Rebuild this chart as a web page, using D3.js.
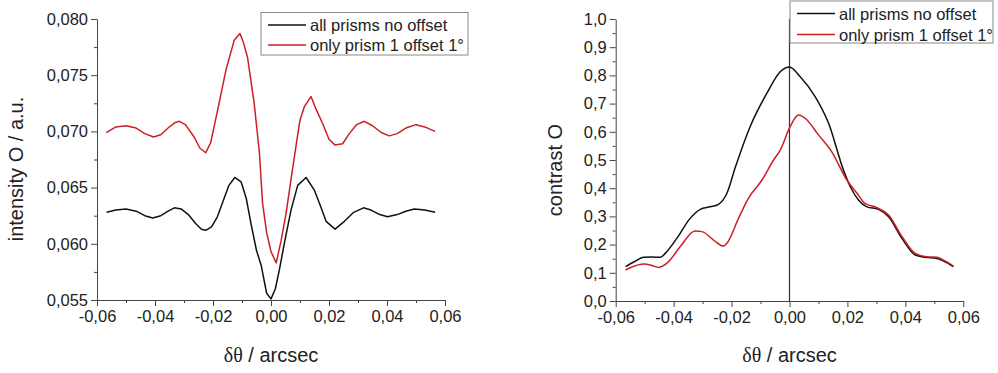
<!DOCTYPE html>
<html>
<head>
<meta charset="utf-8">
<script src="https://d3js.org/d3.v7.min.js"></script>
<title>intensity and contrast</title>
</head>
<style>
body { margin: 0; background: #fff; }
svg { display: block; }
text { font-family: "Liberation Sans", Arial, sans-serif; fill: #222; }
.axis path, .axis line { stroke: #444; stroke-width: 1; }
.axis text { font-size: 16.5px; fill: #222; }
.legendText { font-size: 16.5px; }
.title { font-size: 20px; }
</style>
<body>
<svg width="998" height="373"></svg>
</body>
<script>

// series names
let seriesNames = ["all prisms no offset", "only prism 1 offset 1°"];

// left chart: intensity, x in 1e-3 arcsec
let intBlackX = [-56.7,-53.5,-50.0,-46.5,-43.5,-40.8,-38.0,-35.5,-33.3,-31.0,-28.5,-26.0,-24.0,-22.5,-20.5,-18.5,-16.5,-14.5,-12.5,-10.3,-8.5,-6.9,-5.0,-3.4,-1.5,0,
  1.5,2.9,4.8,6.9,9.2,12.1,14.9,17.0,19.0,22.1,25.3,28.5,31.9,34.5,37.5,40.2,43.5,46.5,49.4,53.0,56.6];
let intBlackY = [0.0628,0.0630,0.0631,0.0629,0.0625,0.0623,0.0625,0.0629,0.0632,0.0631,0.0626,0.0618,0.0613,0.0612,0.0615,0.0624,0.0638,0.0652,0.0659,0.0655,0.0640,0.0618,0.0594,0.0581,0.0556,0.0551,
  0.0560,0.0577,0.0603,0.0630,0.0652,0.0659,0.0648,0.0634,0.0620,0.0613,0.0620,0.0628,0.0632,0.0630,0.0626,0.0624,0.0626,0.0629,0.0631,0.0630,0.0628];

let intRedX = [-56.8,-53.5,-50.0,-46.5,-43.5,-40.5,-38.0,-35.5,-33.0,-31.6,-29.5,-26.5,-24.5,-22.5,-20.8,-18.4,-15.5,-12.7,-10.7,-9.5,-8.1,-5.8,-4.0,-2.9,-1.5,0,
  1.8,3.5,5.2,7.4,8.8,10.0,11.5,13.8,15.5,17.8,20.0,22.0,24.7,27.0,29.5,32.2,35.0,38.0,40.8,43.5,46.5,50.0,53.0,56.6];
let intRedY = [0.0699,0.0704,0.0705,0.0703,0.0698,0.0695,0.0697,0.0703,0.0708,0.0709,0.0706,0.0695,0.0685,0.0681,0.0690,0.0719,0.0755,0.0781,0.0787,0.0779,0.0766,0.0725,0.0681,0.0636,0.0610,0.0593,
  0.0583,0.0603,0.0627,0.0666,0.0690,0.0710,0.0722,0.0731,0.0720,0.0707,0.0693,0.0688,0.0689,0.0698,0.0706,0.0709,0.0705,0.0699,0.0696,0.0698,0.0703,0.0706,0.0704,0.0700];

// right chart: contrast
let conBlackX = [-56.6,-53.5,-50.4,-47.5,-44.6,-42.9,-38.9,-34.3,-30.8,-27.4,-24.5,-21.6,-18.7,-13.6,-7.8,-3.2,0,
  3.7,8.9,13.5,18.6,21.0,23.8,26.7,30.7,34.2,38.8,43.4,46.8,50.9,53.7,56.6];
let conBlackY = [0.122,0.140,0.155,0.156,0.155,0.169,0.222,0.293,0.325,0.334,0.343,0.382,0.474,0.618,0.737,0.813,0.830,
  0.795,0.724,0.630,0.465,0.405,0.358,0.334,0.325,0.299,0.222,0.163,0.155,0.151,0.139,0.122];

let conRedX = [-56.6,-53.5,-50.4,-47.5,-45.2,-42.3,-37.7,-32.6,-30.2,-26.2,-22.8,-21.6,-17.6,-14.2,-9.5,-5.5,-3.2,0.2,
  3.1,5.4,10.0,14.6,19.8,23.3,26.1,30.2,34.2,38.8,43.4,47.4,50.9,53.7,56.6];
let conRedY = [0.110,0.124,0.131,0.126,0.119,0.134,0.193,0.248,0.246,0.216,0.195,0.205,0.293,0.364,0.429,0.500,0.535,0.618,
  0.660,0.648,0.589,0.529,0.429,0.382,0.346,0.331,0.305,0.229,0.169,0.157,0.155,0.142,0.124];

// ticks
let xTicks = [-0.06,-0.04,-0.02,0,0.02,0.04,0.06];
let xMinor = [-0.05,-0.03,-0.01,0.01,0.03,0.05];
let intTicks = [0.055,0.060,0.065,0.070,0.075,0.080];
let intMinor = [0.0575,0.0625,0.0675,0.0725,0.0775];
let conTicks = [0,0.1,0.2,0.3,0.4,0.5,0.6,0.7,0.8,0.9,1.0];
let conMinor = [0.05,0.15,0.25,0.35,0.45,0.55,0.65,0.75,0.85,0.95];

let colors = ["#111", "#cc1f24"];

function toPoints(xs, ys) {
  return xs.map(function(x, i){ return [x/1000, ys[i]]; });
}

function comma(digits) {
  return function(v){ return v.toFixed(digits).replace(".", ","); };
}

let svg = d3.select("svg");

function drawPanel(cfg) {
  let x = d3.scaleLinear().domain([-0.06, 0.06]).range(cfg.xRange);
  let y = d3.scaleLinear().domain(cfg.yDomain).range(cfg.yRange);
  let g = svg.append("g");

  // minor ticks first
  g.append("g").attr("class","axis")
    .attr("transform","translate(0," + cfg.yRange[0] + ")")
    .call(d3.axisBottom(x).tickValues(xMinor).tickSize(3).tickFormat(""))
    .select(".domain").remove();
  g.append("g").attr("class","axis")
    .attr("transform","translate(" + cfg.xRange[0] + ",0)")
    .call(d3.axisLeft(y).tickValues(cfg.yMinor).tickSize(3).tickFormat(""))
    .select(".domain").remove();

  g.append("g").attr("class","axis")
    .attr("transform","translate(0," + cfg.yRange[0] + ")")
    .call(d3.axisBottom(x).tickValues(xTicks).tickSize(6).tickSizeOuter(0).tickPadding(4).tickFormat(comma(2)));
  g.append("g").attr("class","axis")
    .attr("transform","translate(" + cfg.xRange[0] + ",0)")
    .call(d3.axisLeft(y).tickValues(cfg.yTicks).tickSize(6).tickSizeOuter(0).tickPadding(3).tickFormat(comma(cfg.digits)));

  if (cfg.zeroLine) {
    g.append("line")
      .attr("x1", x(0)).attr("x2", x(0))
      .attr("y1", cfg.yRange[1]).attr("y2", cfg.yRange[0])
      .attr("stroke", "#333").attr("stroke-width", 1.2);
  }

  let line = d3.line()
    .x(function(d){ return x(d[0]); })
    .y(function(d){ return y(d[1]); })
    .curve(cfg.curve);

  cfg.series.forEach(function(s, i){
    g.append("path")
      .attr("d", line(s))
      .attr("fill", "none")
      .attr("stroke", colors[i])
      .attr("stroke-width", 1.5)
      .attr("stroke-linejoin", "round");
  });

  // axis titles
  let xt = g.append("text").attr("class","title")
    .attr("x", x(0)).attr("y", 362).attr("text-anchor","middle");
  xt.append("tspan").style("font-family","'Liberation Serif', 'Times New Roman', serif").text("δθ");
  xt.append("tspan").text(" / arcsec");

  g.append("text").attr("class","title")
    .attr("transform","translate(" + cfg.yTitleX + "," + cfg.yTitleY + ") rotate(-90)")
    .attr("text-anchor","middle")
    .text(cfg.yTitle);

  // legend
  let lg = g.append("g").attr("transform","translate(" + cfg.legend[0] + "," + cfg.legend[1] + ")");
  lg.append("rect")
    .attr("width", cfg.legend[2]).attr("height", cfg.legend[3])
    .attr("fill", "#fff").attr("stroke", "#888").attr("stroke-width", 1);
  seriesNames.forEach(function(name, i){
    let yy = 12.5 + i*cfg.legendStep;
    lg.append("line")
      .attr("x1", 7).attr("x2", 45).attr("y1", yy).attr("y2", yy)
      .attr("stroke", colors[i]).attr("stroke-width", 1.5);
    lg.append("text").attr("class","legendText")
      .attr("x", 49).attr("y", yy + 6)
      .text(name);
  });
}

drawPanel({
  xRange: [97, 445], yDomain: [0.055, 0.080], yRange: [300, 19],
  yTicks: intTicks, yMinor: intMinor, digits: 3,
  series: [toPoints(intBlackX, intBlackY), toPoints(intRedX, intRedY)],
  curve: d3.curveLinear, zeroLine: false,
  yTitle: "intensity O / a.u.", yTitleX: 23, yTitleY: 169,
  legend: [261, 12.5, 207, 42.5], legendStep: 20
});

drawPanel({
  xRange: [615.7, 963.3], yDomain: [0, 1], yRange: [301, 19],
  yTicks: conTicks, yMinor: conMinor, digits: 1,
  series: [toPoints(conBlackX, conBlackY), toPoints(conRedX, conRedY)],
  curve: d3.curveMonotoneX, zeroLine: true,
  yTitle: "contrast O", yTitleX: 562, yTitleY: 170,
  legend: [790, 1, 203, 42], legendStep: 21
});

</script>
</html>
